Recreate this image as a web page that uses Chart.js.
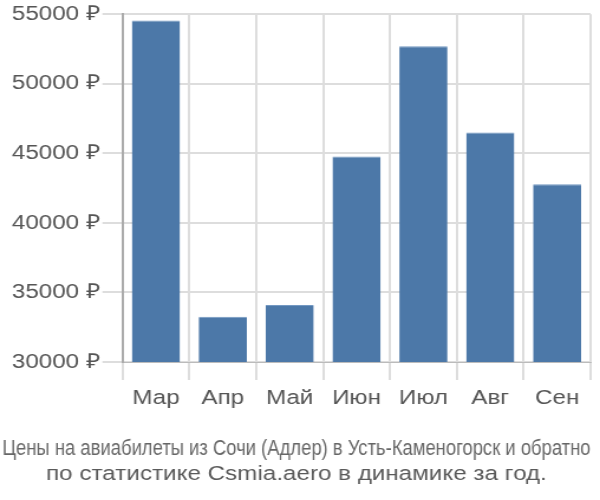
<!DOCTYPE html>
<html>
<head>
<meta charset="utf-8">
<script src="https://cdn.jsdelivr.net/npm/chart.js@4/dist/chart.umd.min.js"></script>
<style>
  html, body { margin: 0; padding: 0; background: #fff; overflow: hidden; }
  /* график рисуется уже и растягивается по ширине, как в исходной картинке */
  #wrap { width: 508px; height: 500px; transform: scaleX(1.1811); transform-origin: 0 0; }
</style>
</head>
<body>
<div id="wrap"><canvas id="priceChart"></canvas></div>
<script>
// Данные графика
const months = ['Мар', 'Апр', 'Май', 'Июн', 'Июл', 'Авг', 'Сен'];
const prices = [54550, 33250, 34100, 44780, 52700, 46500, 42780];
const yTicks = [30000, 35000, 40000, 45000, 50000, 55000];
const titleLine1 = 'Цены на авиабилеты из Сочи (Адлер) в Усть-Каменогорск и обратно';
const titleLine2 = 'по статистике Csmia.aero в динамике за год.';

const baseFont = '"Liberation Sans", Arial, sans-serif';

const ctx = document.getElementById('priceChart').getContext('2d');
new Chart(ctx, {
    type: 'bar',
    data: {
        labels: months,
        datasets: [{
            data: prices,
            backgroundColor: '#4c78a8',
            borderColor: '#7398c2',
            borderWidth: { top: 1, left: 0, right: 0, bottom: 0 },
            barPercentage: 0.72,
            categoryPercentage: 1
        }]
    },
    options: {
        responsive: true,
        maintainAspectRatio: false,
        animation: false,
        layout: { padding: { top: 0, right: 8, left: 2, bottom: 7 } },
        plugins: {
            legend: { display: false },
            tooltip: { enabled: false },
            // title - нижняя строка, subtitle - строка над ней
            title: {
                display: true,
                position: 'bottom',
                text: titleLine2,
                color: '#5a5a5a',
                font: { family: baseFont, size: 20.5, weight: 'normal' },
                padding: { top: 0, bottom: 6 }
            },
            subtitle: {
                display: true,
                position: 'bottom',
                text: titleLine1,
                color: '#666',
                font: { family: baseFont, size: 21.5 },
                padding: { top: 20, bottom: 0 }
            }
        },
        scales: {
            x: {
                grid: { color: '#dddddd', lineWidth: 2, tickLength: 18 },
                border: { color: '#bbbbbb', width: 1 },
                ticks: {
                    color: '#555',
                    font: { family: baseFont, size: 20.5 },
                    padding: 6
                }
            },
            y: {
                min: 30000,
                max: 55000,
                afterBuildTicks: axis => { axis.ticks = yTicks.map(v => ({ value: v })); },
                // место слева от подписей, чтобы ось стояла как в оригинале
                afterFit: axis => { axis.width += 6; },
                grid: { color: '#dddddd', lineWidth: 2, tickLength: 17 },
                border: { color: '#aaaaaa', width: 2 },
                ticks: {
                    color: '#555',
                    font: { family: baseFont, size: 20.5 },
                    padding: 2,
                    callback: v => v + ' ₽'
                }
            }
        }
    }
});
</script>
</body>
</html>
